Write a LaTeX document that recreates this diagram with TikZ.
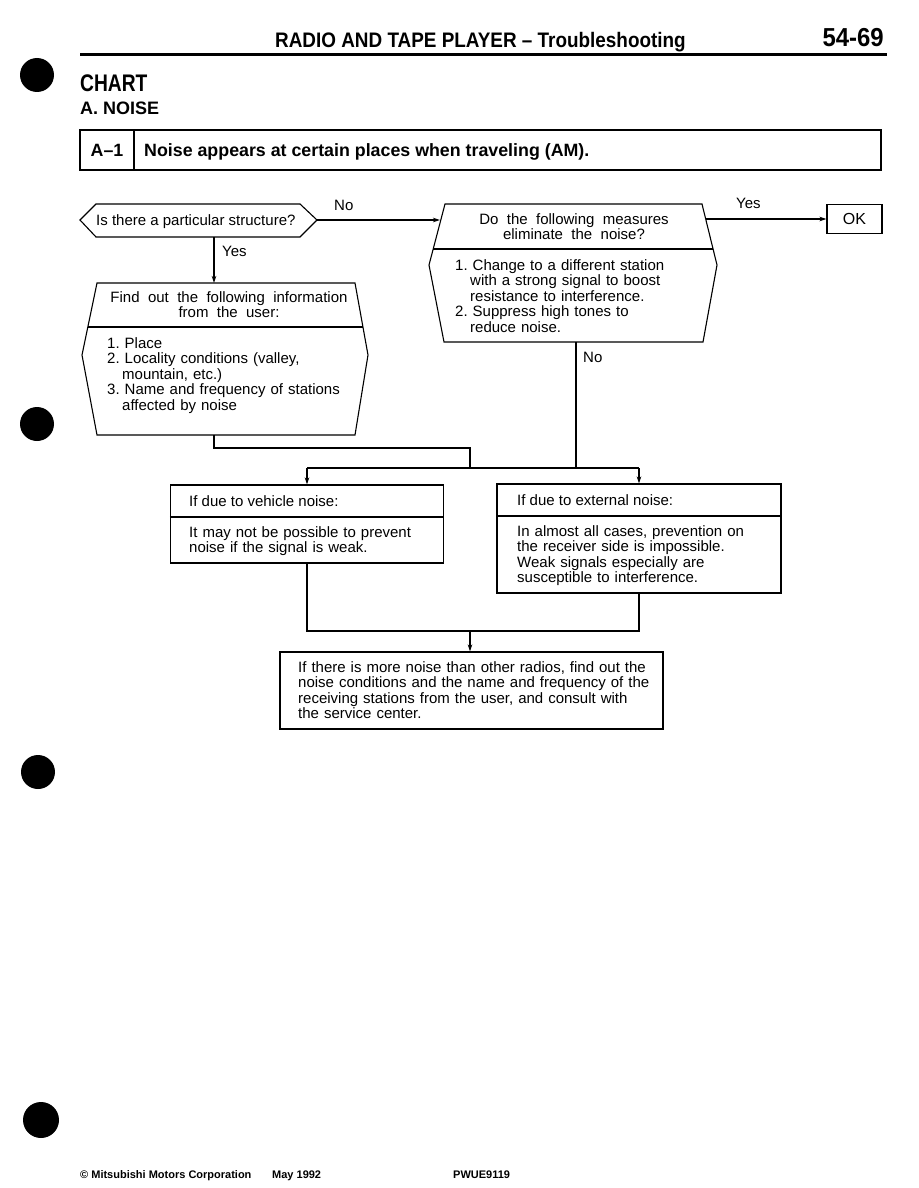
\documentclass[tikz,border=0pt]{standalone}
\usepackage{graphicx}
\usepackage{fontspec}
\setmainfont{Liberation Sans}
\usetikzlibrary{arrows.meta}
\frenchspacing
\newcommand{\wide}{\spaceskip=8.4pt\relax}
\begin{document}
\begin{tikzpicture}[x=1pt,y=-1pt,
    box/.style={draw, line width=1.1pt},
    txt/.style={anchor=base west, inner sep=0pt, text width=#1, align=left,
        font=\fontsize{15}{15.5}\selectfont},
    ctxt/.style={anchor=base, inner sep=0pt, text width=#1, align=center,
        font=\fontsize{15}{15.5}\selectfont},
    lbl/.style={anchor=base west, inner sep=0pt, font=\fontsize{15}{15.5}\selectfont},
    flow/.style={line width=1.1pt},
    arr/.style={line width=1.1pt, -{Stealth[length=7pt,width=4.5pt]}}]
    \useasboundingbox (0,0) rectangle (918,1188);

    % 页眉
    \node[anchor=base west, inner sep=0pt, font=\fontsize{21}{24}\selectfont\bfseries]
        (head) at (275,48) {\scalebox{0.9}[1]{RADIO AND TAPE PLAYER -- Troubleshooting}};
    \node[anchor=base east, inner sep=0pt, font=\fontsize{26}{28}\selectfont\bfseries]
        (page) at (884,47) {\scalebox{0.92}[1]{54-69}};
    \draw[line width=3pt] (80,55) -- (887,55);

    % 装订孔
    \fill (37,75) circle (17);
    \fill (37,424) circle (17);
    \fill (38,772) circle (17);
    \fill (41,1120) circle (18);

    % 标题
    \node[anchor=base west, inner sep=0pt, font=\fontsize{24}{26}\selectfont\bfseries]
        (chart) at (80,92) {\scalebox{0.8}[1]{CHART}};
    \node[anchor=base west, inner sep=0pt, font=\fontsize{18}{20}\selectfont\bfseries]
        (sect) at (80,114) {A.\ NOISE};
    \draw[line width=2pt] (80,130) rectangle (881,170);
    \draw[line width=1.5pt] (134,130) -- (134,170);
    \node[anchor=base, inner sep=0pt, font=\fontsize{17.8}{20}\selectfont\bfseries]
        (code) at (107,157) {A--1};
    \node[anchor=base west, inner sep=0pt, font=\fontsize{17.8}{20}\selectfont\bfseries]
        (title) at (144,157) {Noise appears at certain places when traveling (AM).};

    % 判断：是否有特殊建筑
    \draw[box] (80,220) -- (96,204) -- (300,204) -- (317,220) -- (300,237) -- (96,237) -- cycle;
    \node[lbl] (q1) at (96,225) {Is there a particular structure?};
    \coordinate (q1e) at (317,220);
    \coordinate (q1s) at (214,237);

    % 右侧：措施
    \draw[box] (445,204) -- (702,204) -- (717,265) -- (703,342) -- (444,342) -- (429,265) -- cycle;
    \draw[box] (433,249) -- (713,249);
    \node[ctxt=250pt] (q2) at (574,224) {\wide Do the following measures\\eliminate the noise?};
    \node[txt=250pt] (q2list) at (455,270)
        {1. Change to a different station\\\hspace*{15pt}with a strong signal to boost\\\hspace*{15pt}resistance to interference.\\2. Suppress high tones to\\\hspace*{15pt}reduce noise.};
    \coordinate (q2w) at (440,220);
    \coordinate (q2e) at (706,219);
    \coordinate (q2s) at (576,342);

    \node[box, minimum width=55pt, minimum height=29pt, inner sep=0pt,
        font=\fontsize{16}{18}\selectfont] (ok) at (854.5,219) {OK};

    % 左侧：询问用户
    \draw[box] (97,283) -- (355,283) -- (368,355) -- (355,435) -- (97,435) -- (82,355) -- cycle;
    \draw[box] (88,327) -- (363,327);
    \node[ctxt=260pt] (p1) at (229,302) {\wide Find out the following information\\from the user:};
    \node[txt=250pt] (p1list) at (107,348)
        {1. Place\\2. Locality conditions (valley,\\\hspace*{15pt}mountain, etc.)\\3. Name and frequency of stations\\\hspace*{15pt}affected by noise};
    \coordinate (p1n) at (214,283);
    \coordinate (p1s) at (214,435);

    % 车辆噪声 / 外部噪声
    \node[box, minimum width=273pt, minimum height=78pt, inner sep=0pt] (veh) at (307,524) {};
    \draw[box] (veh.west |- 0,517) -- (veh.east |- 0,517);
    \node[lbl] (vehh) at (189,506) {If due to vehicle noise:};
    \node[txt=250pt] (vehb) at (189,537)
        {It may not be possible to prevent\\noise if the signal is weak.};

    \node[box, minimum width=284pt, minimum height=109pt, inner sep=0pt] (ext) at (639,538.5) {};
    \draw[box] (ext.west |- 0,516) -- (ext.east |- 0,516);
    \node[lbl] (exth) at (517,505) {If due to external noise:};
    \node[txt=260pt] (extb) at (517,536)
        {In almost all cases, prevention on\\the receiver side is impossible.\\Weak signals especially are\\susceptible to interference.};

    % 结论
    \node[box, minimum width=383pt, minimum height=77pt, inner sep=0pt] (fin) at (471.5,690.5) {};
    \node[txt=370pt] (finb) at (298,672)
        {If there is more noise than other radios, find out the\\noise conditions and the name and frequency of the\\receiving stations from the user, and consult with\\the service center.};

    % 连线
    \draw[arr] (q1e) -- (q2w);
    \node[lbl] (no1) at (334,210) {No};
    \draw[arr] (q2e) -- (ok.west);
    \node[lbl] (yes1) at (736,208) {Yes};
    \draw[arr] (q1s) -- (p1n);
    \node[lbl] (yes2) at (222,256) {Yes};
    \node[lbl] (no2) at (583,362) {No};

    \coordinate (bus) at (470,468);
    \draw[flow] (p1s) -- (214,448) -| (bus);
    \draw[flow] (q2s) -- (q2s |- bus);
    \draw[flow] (veh.north |- bus) -- (ext.north |- bus);
    \draw[arr] (veh.north |- bus) -- (veh.north);
    \draw[arr] (ext.north |- bus) -- (ext.north);

    \coordinate (bus2) at (470,631);
    \draw[flow] (veh.south) |- (bus2) -| (ext.south);
    \draw[arr] (bus2) -- (fin.north -| bus2);

    % 页脚
    \node[anchor=base west, inner sep=0pt, font=\fontsize{11}{12}\selectfont\bfseries]
        (corp) at (80,1178) {\textcopyright{} Mitsubishi Motors Corporation};
    \node[anchor=base west, inner sep=0pt, font=\fontsize{11}{12}\selectfont\bfseries]
        (date) at (272,1178) {May 1992};
    \node[anchor=base west, inner sep=0pt, font=\fontsize{11}{12}\selectfont\bfseries]
        (pub) at (453,1178) {PWUE9119};
\end{tikzpicture}
\end{document}
